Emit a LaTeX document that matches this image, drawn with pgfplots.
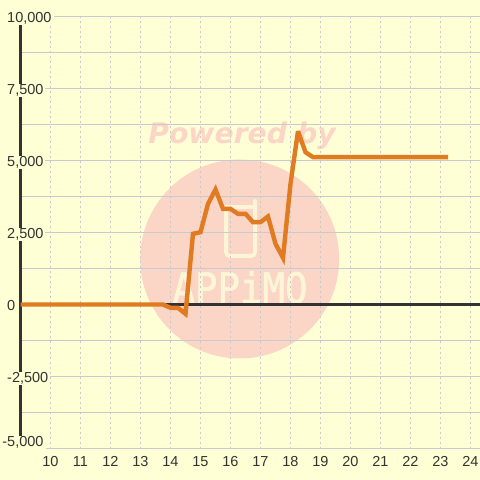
\documentclass[border=0pt]{standalone}
\usepackage{fontspec}
\setmainfont{Liberation Sans}
\newfontfamily\wmfont{DejaVu Sans}
\newfontfamily\logofont[FakeBold=1.5]{DejaVu Sans Mono}
\usepackage{pgfplots}
\pgfplotsset{compat=1.18}

\definecolor{bgc}{HTML}{FFFFD5}
\definecolor{inkc}{HTML}{333333}
\definecolor{gridc}{HTML}{CACACC}
\definecolor{linec}{HTML}{E07B22}
\definecolor{wmc}{HTML}{FBD5C5}
\definecolor{logoc}{HTML}{FDF6D6}

\newcommand{\lblfont}{\fontsize{14.5}{16}\selectfont}

\begin{document}
\begin{tikzpicture}[x=1pt,y=1pt]
    % picture coordinates are the reference's pixels, y going up
    \path[use as bounding box, fill=bgc] (0,0) rectangle (480,480);
    \fill[wmc] (239.7,221) circle (99.5);
    \node[text=wmc, font=\wmfont\bfseries\itshape\fontsize{28.3}{30}\selectfont, anchor=base] at (242,336) {Powered by};
    \draw[logoc, line width=4pt, rounded corners=4pt, line cap=round] (226,273) -- (226,224) -- (255,224) -- (255,279);
    \draw[logoc, line width=4pt] (226,273) -- (255,273);
    \node[text=logoc, font=\logofont\fontsize{42}{44}\selectfont, anchor=base, xscale=0.89] at (240,177) {APPiMO};

    \begin{axis}[
        at={(20.5pt,31.5pt)},
        anchor=south west,
        scale only axis,
        width=459.5pt,
        height=432pt,
        xmin=9, xmax=24.3167,
        ymin=-5000, ymax=10000,
        axis y line=left,
        axis x line=bottom,
        axis line style={-},
        y axis line style={draw=inkc, line width=3pt},
        x axis line style={draw=gridc, line width=1pt},
        scaled y ticks=false,
        xtick={10,11,...,24},
        ytick={-2500,0,2500,5000,7500},
        yticklabels={{-2,500},0,{2,500},{5,000},{7,500}},
        extra y ticks={10000},
        extra y tick labels={10{,}000},
        minor ytick={-3750,-1250,1250,3750,6250,8750},
        major tick length=0pt,
        minor tick length=0pt,
        xmajorgrids=true,
        ymajorgrids=true,
        yminorgrids=true,
        x grid style={draw=gridc, line width=1pt, dash pattern=on 2pt off 3pt},
        y grid style={draw=gridc, line width=1pt},
        tick label style={font=\lblfont, text=inkc, /pgf/number format/assume math mode=true},
        xticklabel style={anchor=north, inner sep=0pt, text height=10.5pt, text depth=0pt},
        xticklabel shift=7.5pt,
        yticklabel style={anchor=west, fill=bgc, inner xsep=2pt, inner ysep=0pt,
            text height=10.5pt, text depth=2.5pt, xshift=-15.5pt, yshift=-2.2pt},
        every tick/.style={draw=none},
    ]
        \addplot[draw=inkc, line width=3pt, forget plot] coordinates {(9,0) (24.3167,0)};
        \addplot[draw=linec, line width=4.4pt, line cap=square, line join=miter, miter limit=4] coordinates {
            (9,0) (13.75,0) (14,-115) (14.25,-115) (14.5,-325) (14.75,2455) (15,2510)
            (15.25,3495) (15.5,3993) (15.75,3322) (16,3322) (16.25,3148) (16.5,3148)
            (16.75,2858) (17,2858) (17.25,3055) (17.5,2107) (17.75,1621) (18,4190)
            (18.25,6018) (18.5,5288) (18.75,5115) (19,5115) (20,5115) (21,5115)
            (22,5115) (23,5115) (23.25,5115)
        };
    \end{axis}

    \node[anchor=base west, fill=bgc, font=\lblfont, text=inkc, inner xsep=2pt, inner ysep=0pt,
        text height=10.5pt, text depth=2.5pt] at (0.2,33) {-5,000};
\end{tikzpicture}
\end{document}
